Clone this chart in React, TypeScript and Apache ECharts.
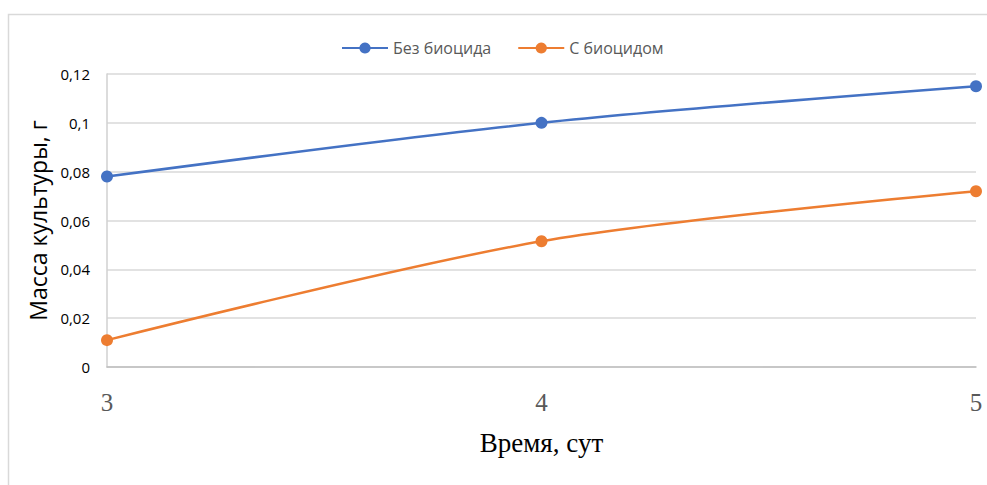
import React, { useEffect, useRef } from "react";
import * as echarts from "echarts";

const days = ["3", "4", "5"];
const withoutBiocide = [0.078, 0.1, 0.115];
const withBiocide = [0.011, 0.0515, 0.072];
const seriesNames = ["Без биоцида", "С биоцидом"];
const colors = ["#4472C4", "#ED7D31"];

export default function App() {
  const ref = useRef<HTMLDivElement>(null);
  useEffect(() => {
    const chart = echarts.init(ref.current!, null, { renderer: "svg" });
    chart.setOption({
      animation: false,
      backgroundColor: "#ffffff",
      graphic: [
        {
          type: "rect",
          shape: { x: 8.5, y: 14.5, width: 1000, height: 500 },
          style: { fill: "none", stroke: "#d9d9d9", lineWidth: 1.5 },
          silent: true,
          z: -1,
        },
      ],
      legend: {
        top: 35,
        left: 336,
        itemWidth: 46,
        itemHeight: 14,
        itemGap: 26,
        textStyle: { fontFamily: "Open Sans", fontSize: 16, color: "#595959" },
        data: seriesNames,
      },
      grid: { left: 107, right: 11, top: 74, bottom: 118 },
      xAxis: {
        type: "category",
        data: days,
        boundaryGap: false,
        axisLine: { lineStyle: { color: "#bfbfbf", width: 1.5 } },
        axisTick: { show: false },
        axisLabel: {
          fontFamily: "Liberation Serif",
          fontSize: 25,
          color: "#595959",
          margin: 23,
        },
        name: "Время, сут",
        nameLocation: "middle",
        nameGap: 62,
        nameTextStyle: { fontFamily: "Liberation Serif", fontSize: 27, color: "#000" },
      },
      yAxis: {
        type: "value",
        min: 0,
        max: 0.12,
        interval: 0.02,
        axisLine: { show: true, lineStyle: { color: "#d0d0d0", width: 1.5 } },
        splitLine: { lineStyle: { color: "#d9d9d9", width: 1.5 } },
        axisLabel: {
          fontFamily: "Open Sans",
          fontSize: 15,
          color: "#000",
          margin: 17,
          formatter: (v: number) => (v === 0 ? "0" : String(+v.toFixed(2)).replace(".", ",")),
        },
        name: "Масса культуры, г",
        nameLocation: "middle",
        nameGap: 57,
        nameTextStyle: { fontFamily: "Open Sans", fontSize: 23, color: "#000" },
      },
      series: [
        {
          name: seriesNames[0],
          type: "line",
          data: withoutBiocide,
          smooth: 0.3,
          symbol: "circle",
          symbolSize: 12,
          itemStyle: { color: colors[0] },
          lineStyle: { color: colors[0], width: 2.5 },
        },
        {
          name: seriesNames[1],
          type: "line",
          data: withBiocide,
          smooth: 0.3,
          symbol: "circle",
          symbolSize: 12,
          itemStyle: { color: colors[1] },
          lineStyle: { color: colors[1], width: 2.5 },
        },
      ],
    });
    return () => chart.dispose();
  }, []);
  return (
    <div
      ref={ref}
      style={{ position: "absolute", left: 0, top: 0, width: 987, height: 485 }}
    />
  );
}
